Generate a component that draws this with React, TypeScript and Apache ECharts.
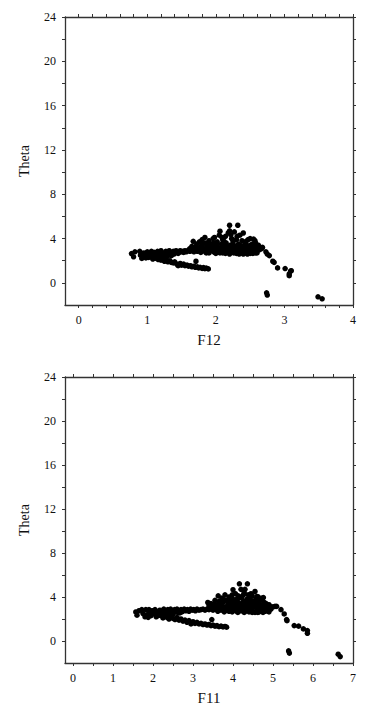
import { useEffect, useRef } from "react";
import * as echarts from "echarts";

// ---------- Top panel: Theta vs F12 ----------
const f12Band = [
  [0.77, 2.64], [0.8, 2.35], [0.82, 2.8], [0.89, 2.85], [0.9, 2.5], [0.92, 2.2], [0.95, 2.7], [0.97, 2.4],
  [1.0, 2.8], [1.0, 2.55], [1.02, 2.3], [1.04, 2.65], [1.06, 2.85], [1.07, 2.45], [1.09, 2.2], [1.1, 2.75],
  [1.12, 2.55], [1.14, 2.35], [1.15, 2.85], [1.17, 2.65], [1.18, 2.45], [1.2, 2.9], [1.22, 2.7], [1.24, 2.5],
  [1.25, 2.3], [1.27, 2.85], [1.29, 2.65], [1.3, 2.45], [1.32, 2.9], [1.34, 2.75], [1.36, 2.6], [1.38, 2.85],
  [1.4, 2.7], [1.42, 2.9], [1.44, 2.8], [1.46, 2.75], [1.48, 2.9], [1.5, 2.8], [1.52, 2.85], [1.55, 2.9],
  [1.57, 2.8], [1.6, 2.95], [1.62, 2.85], [1.65, 2.9], [1.68, 2.8], [1.7, 2.95], [1.73, 2.85], [1.76, 2.9],
  [1.8, 2.85], [1.84, 2.95], [1.88, 2.8], [1.9, 2.7], [1.92, 2.9], [1.96, 2.85], [2.0, 2.95], [2.0, 2.65],
  [2.04, 2.8], [2.08, 2.9], [2.1, 2.7], [2.12, 2.85], [2.16, 2.95], [2.2, 2.8], [2.2, 2.6], [2.24, 2.9],
  [2.28, 2.75], [2.3, 2.65], [2.32, 2.85], [2.36, 2.7], [2.4, 2.8], [2.4, 2.6], [2.44, 2.7], [2.48, 2.85],
  [2.5, 2.65], [2.52, 2.75], [2.56, 2.9], [2.6, 2.8], [2.6, 2.7], [2.64, 3.0], [2.67, 3.1],
  [0.98, 2.25], [1.03, 2.6], [1.08, 2.35], [1.11, 2.65], [1.16, 2.5], [1.19, 2.75], [1.21, 2.35], [1.26, 2.6],
  [1.31, 2.7], [1.35, 2.45], [1.39, 2.6], [1.45, 2.65], [1.53, 2.75], [1.78, 2.75], [1.86, 2.7], [1.98, 2.75],
  [2.06, 2.7], [2.14, 2.65], [2.26, 2.7], [2.34, 2.6], [2.46, 2.6], [2.54, 2.65], [2.58, 2.7],
];
const f12Branch = [
  [1.05, 2.35], [1.08, 2.15], [1.1, 2.4], [1.13, 2.2], [1.16, 2.1], [1.18, 2.3], [1.2, 2.05], [1.23, 2.2],
  [1.25, 1.95], [1.28, 2.1], [1.3, 1.9], [1.33, 2.0], [1.35, 1.85], [1.38, 1.8], [1.4, 1.9], [1.43, 1.7],
  [1.45, 1.55], [1.48, 1.75], [1.5, 1.6], [1.53, 1.7], [1.55, 1.55], [1.58, 1.6], [1.6, 1.5], [1.63, 1.55],
  [1.65, 1.45], [1.68, 1.5], [1.7, 1.4], [1.71, 1.95], [1.73, 1.45], [1.75, 1.35], [1.77, 1.4], [1.8, 1.3],
  [1.82, 1.38], [1.84, 1.28], [1.86, 1.33], [1.89, 1.26],
];
const f12Hump = [
  [1.62, 3.1], [1.65, 3.3], [1.67, 3.75], [1.7, 3.2], [1.72, 3.5], [1.75, 3.0], [1.76, 3.7], [1.78, 3.3],
  [1.8, 3.9], [1.82, 3.1], [1.84, 4.1], [1.85, 3.6], [1.87, 3.3], [1.9, 3.8], [1.92, 3.1], [1.94, 3.5],
  [1.96, 4.0], [1.98, 4.1], [2.0, 3.3], [2.02, 3.7], [2.04, 3.0], [2.05, 4.3], [2.06, 4.66], [2.08, 3.5],
  [2.1, 3.9], [2.12, 3.2], [2.14, 4.2], [2.15, 3.6], [2.17, 3.0], [2.18, 4.5], [2.2, 5.2], [2.2, 4.7],
  [2.21, 3.4], [2.23, 4.0], [2.25, 3.7], [2.27, 4.6], [2.28, 3.2], [2.3, 3.9], [2.32, 5.2], [2.33, 3.5],
  [2.35, 4.3], [2.36, 3.0], [2.38, 3.8], [2.4, 4.5], [2.41, 3.3], [2.43, 3.6], [2.45, 3.1], [2.47, 3.9],
  [2.5, 4.0], [2.5, 3.4], [2.52, 3.0], [2.55, 3.95], [2.55, 3.3], [2.58, 3.6], [2.6, 3.1], [2.62, 3.4],
  [2.65, 3.2], [2.68, 3.2],
  [1.68, 3.0], [1.73, 3.15], [1.79, 3.05], [1.81, 3.5], [1.86, 3.05], [1.89, 3.4], [1.93, 3.0], [1.95, 3.25],
  [1.99, 3.05], [2.01, 3.5], [2.03, 3.2], [2.07, 3.1], [2.09, 3.3], [2.11, 3.0], [2.13, 3.45], [2.16, 3.2],
  [2.19, 3.1], [2.22, 3.25], [2.24, 3.0], [2.26, 3.4], [2.29, 3.05], [2.31, 3.3], [2.34, 3.15], [2.37, 3.35],
  [2.39, 3.05], [2.42, 3.2], [2.44, 3.4], [2.46, 3.0], [2.48, 3.25], [2.51, 3.15], [2.53, 3.5], [2.56, 3.1],
  [2.57, 3.8], [2.59, 3.3], [2.61, 3.0], [2.63, 3.1], [1.97, 3.6], [2.12, 3.75], [2.26, 3.85], [2.44, 3.75],
  [2.09, 4.1], [2.31, 4.2], [2.22, 4.35],
];
const f12Tail = [
  [2.73, 2.8], [2.75, 2.6], [2.78, 2.46], [2.83, 1.95], [2.85, 1.85], [2.9, 1.35], [3.01, 1.29],
  [3.07, 0.8], [3.07, 0.65], [3.09, 1.05], [3.1, 1.1],
];
const f12Outliers = [[2.74, -0.9], [2.75, -1.1], [3.49, -1.26], [3.55, -1.44]];

// ---------- Bottom panel: Theta vs F11 ----------
const f11Band = [
  [1.57, 2.64], [1.6, 2.35], [1.65, 2.75], [1.72, 2.85], [1.75, 2.5], [1.8, 2.2], [1.82, 2.85], [1.86, 2.4],
  [1.9, 2.85], [1.92, 2.6], [1.95, 2.3], [1.98, 2.75], [2.02, 2.5], [2.05, 2.85], [2.08, 2.2], [2.1, 2.65],
  [2.14, 2.4], [2.17, 2.8], [2.2, 2.55], [2.24, 2.3], [2.27, 2.9], [2.3, 2.65], [2.34, 2.45], [2.37, 2.85],
  [2.4, 2.6], [2.44, 2.9], [2.47, 2.7], [2.5, 2.45], [2.54, 2.85], [2.57, 2.65], [2.6, 2.9], [2.64, 2.75],
  [2.67, 2.55], [2.7, 2.85], [2.74, 2.7], [2.78, 2.9], [2.82, 2.75], [2.86, 2.85], [2.9, 2.7], [2.94, 2.9],
  [2.98, 2.8], [3.02, 2.85], [3.06, 2.75], [3.1, 2.9], [3.15, 2.8], [3.2, 2.85], [3.25, 2.9], [3.3, 2.8],
  [3.35, 2.9], [3.4, 2.85], [3.45, 2.95], [3.5, 2.8], [3.55, 2.9], [3.6, 2.85], [3.65, 2.95], [3.7, 2.8],
  [3.75, 2.9], [3.8, 2.75], [3.85, 2.85], [3.9, 2.7], [3.95, 2.9], [4.0, 2.75], [4.05, 2.85], [4.1, 2.7],
  [4.15, 2.9], [4.2, 2.75], [4.25, 2.85], [4.3, 2.7], [4.35, 2.8], [4.4, 2.65], [4.45, 2.85], [4.5, 2.7],
  [4.55, 2.6], [4.6, 2.8], [4.65, 2.65], [4.7, 2.75], [4.75, 2.6], [4.8, 2.7], [4.85, 2.8], [4.9, 2.65],
  [4.95, 2.9], [5.0, 3.1], [5.05, 3.15],
  [1.88, 2.15], [1.97, 2.45], [2.06, 2.6], [2.12, 2.3], [2.19, 2.7], [2.28, 2.5], [2.36, 2.7], [2.42, 2.4],
  [2.52, 2.65], [2.62, 2.6], [2.72, 2.65], [3.62, 2.7], [3.78, 2.65], [3.98, 2.65], [4.12, 2.6], [4.28, 2.6],
  [4.48, 2.6], [4.62, 2.6], [4.78, 2.75], [4.88, 2.7],
];
const f11Branch = [
  [2.2, 2.3], [2.25, 2.1], [2.3, 2.35], [2.35, 2.15], [2.4, 2.0], [2.45, 2.25], [2.5, 2.05], [2.55, 1.95],
  [2.6, 2.15], [2.65, 1.9], [2.7, 2.0], [2.75, 1.8], [2.8, 1.9], [2.85, 1.7], [2.9, 1.85], [2.95, 1.55],
  [3.0, 1.75], [3.05, 1.6], [3.1, 1.7], [3.15, 1.55], [3.2, 1.6], [3.25, 1.5], [3.3, 1.55], [3.35, 1.45],
  [3.4, 1.5], [3.45, 1.4], [3.47, 1.95], [3.5, 1.45], [3.55, 1.35], [3.6, 1.4], [3.65, 1.3], [3.7, 1.35],
  [3.75, 1.28], [3.8, 1.32], [3.84, 1.26],
];
const f11Hump = [
  [3.37, 3.5], [3.4, 3.2], [3.45, 3.4], [3.5, 3.1], [3.55, 3.7], [3.6, 3.3], [3.63, 4.1], [3.65, 3.6],
  [3.7, 3.2], [3.72, 3.9], [3.75, 3.5], [3.8, 4.2], [3.82, 3.1], [3.85, 3.7], [3.88, 3.3], [3.9, 4.0],
  [3.93, 3.6], [3.96, 3.2], [4.0, 4.66], [4.0, 3.8], [4.03, 3.4], [4.06, 4.3], [4.08, 3.0], [4.1, 3.7],
  [4.13, 4.1], [4.16, 5.2], [4.17, 3.3], [4.2, 4.7], [4.22, 3.9], [4.25, 3.5], [4.28, 4.4], [4.3, 4.7],
  [4.32, 3.1], [4.35, 3.8], [4.36, 5.2], [4.38, 4.2], [4.4, 3.4], [4.43, 3.9], [4.46, 3.0], [4.48, 4.1],
  [4.5, 3.6], [4.53, 3.2], [4.55, 4.5], [4.57, 3.8], [4.6, 3.4], [4.63, 4.0], [4.65, 3.1], [4.68, 3.7],
  [4.7, 3.3], [4.73, 3.9], [4.76, 3.95], [4.78, 3.5], [4.8, 3.0], [4.83, 3.4], [4.85, 3.2], [4.9, 3.3],
  [4.95, 3.1],
  [3.42, 3.0], [3.52, 3.35], [3.58, 3.05], [3.68, 3.45], [3.74, 3.1], [3.78, 3.75], [3.84, 3.05], [3.87, 3.5],
  [3.92, 3.1], [3.95, 3.45], [3.99, 3.05], [4.02, 3.2], [4.05, 3.55], [4.09, 3.25], [4.12, 3.05], [4.15, 3.45],
  [4.19, 3.15], [4.23, 3.3], [4.27, 3.05], [4.3, 3.6], [4.34, 3.25], [4.37, 3.05], [4.41, 3.65], [4.45, 3.3],
  [4.49, 3.05], [4.52, 3.45], [4.56, 3.1], [4.59, 3.6], [4.62, 3.3], [4.67, 3.05], [4.72, 3.2], [4.75, 3.05],
  [4.82, 3.15], [4.88, 3.05], [4.18, 4.0], [4.26, 4.2], [4.45, 4.3], [4.6, 4.05], [4.11, 3.85], [3.98, 4.2],
];
const f11Tail = [
  [5.09, 3.15], [5.2, 2.85], [5.28, 2.46], [5.34, 1.95], [5.35, 1.85], [5.53, 1.4], [5.64, 1.35],
  [5.76, 1.1], [5.86, 0.95], [5.86, 0.7],
];
const f11Outliers = [[5.39, -0.9], [5.41, -1.1], [6.63, -1.2], [6.68, -1.42]];

// ---------- Axes ----------
const yLabels = [0, 4, 8, 12, 16, 20, 24];
const yTicks = [0, 2, 4, 6, 8, 10, 12, 14, 16, 18, 20, 22, 24];
const f12Labels = [0, 1, 2, 3, 4];
const f12Ticks = [0, 0.2, 0.4, 0.6, 0.8, 1, 1.2, 1.4, 1.6, 1.8, 2, 2.2, 2.4, 2.6, 2.8, 3, 3.2, 3.4, 3.6, 3.8, 4];
const f11Labels = [0, 1, 2, 3, 4, 5, 6, 7];
const f11Ticks = [0, 0.5, 1, 1.5, 2, 2.5, 3, 3.5, 4, 4.5, 5, 5.5, 6, 6.5, 7];

const FONT = "Liberation Serif";
const LINE = "#333";
const TXT = "#111";

function xAxis(grid: number, min: number, max: number, labels: number[], ticks: number[], name: string, position: "top" | "bottom") {
  const main = position === "bottom";
  return {
    type: "value",
    gridIndex: grid,
    position,
    min,
    max,
    name: main ? name : "",
    nameLocation: "middle",
    nameGap: 27,
    nameTextStyle: { fontFamily: FONT, fontSize: 15, color: TXT },
    axisLine: { show: true, onZero: false, lineStyle: { color: LINE, width: 1.3 } },
    axisTick: { show: true, length: 3, customValues: ticks, lineStyle: { color: LINE, width: 1 } },
    axisLabel: {
      show: main,
      customValues: labels,
      margin: 9,
      fontFamily: FONT,
      fontSize: 12,
      color: TXT,
      formatter: (v: number) => String(v),
    },
    splitLine: { show: false },
  };
}

function yAxis(grid: number, position: "left" | "right") {
  const main = position === "left";
  return {
    type: "value",
    gridIndex: grid,
    position,
    min: -2,
    max: 24,
    name: main ? "Theta" : "",
    nameLocation: "middle",
    nameGap: 34,
    nameTextStyle: { fontFamily: FONT, fontSize: 14, color: TXT },
    axisLine: { show: true, onZero: false, lineStyle: { color: LINE, width: 1.3 } },
    axisTick: { show: true, length: 3, customValues: yTicks, lineStyle: { color: LINE, width: 1 } },
    axisLabel: {
      show: main,
      customValues: yLabels,
      margin: 9,
      fontFamily: FONT,
      fontSize: 12,
      color: TXT,
      formatter: (v: number) => String(v),
    },
    splitLine: { show: false },
  };
}

const dot = { color: "#000", opacity: 1 };

export default function App() {
  const ref = useRef<HTMLDivElement>(null);
  useEffect(() => {
    if (!ref.current) return;
    const chart = echarts.init(ref.current, null, { renderer: "svg" });
    chart.setOption({
      animation: false,
      backgroundColor: "#fff",
      grid: [
        { left: 65, top: 17, width: 288, height: 288 },
        { left: 65, top: 377, width: 288, height: 288 },
      ],
      xAxis: [
        xAxis(0, -0.2, 4, f12Labels, f12Ticks, "F12", "bottom"),
        xAxis(0, -0.2, 4, f12Labels, f12Ticks, "", "top"),
        xAxis(1, -0.2, 7, f11Labels, f11Ticks, "F11", "bottom"),
        xAxis(1, -0.2, 7, f11Labels, f11Ticks, "", "top"),
      ],
      yAxis: [yAxis(0, "left"), yAxis(0, "right"), yAxis(1, "left"), yAxis(1, "right")],
      series: [
        {
          type: "scatter",
          xAxisIndex: 0,
          yAxisIndex: 0,
          symbolSize: 5.5,
          itemStyle: dot,
          data: [...f12Band, ...f12Branch, ...f12Hump, ...f12Tail, ...f12Outliers],
        },
        {
          type: "scatter",
          xAxisIndex: 2,
          yAxisIndex: 2,
          symbolSize: 5.5,
          itemStyle: dot,
          data: [...f11Band, ...f11Branch, ...f11Hump, ...f11Tail, ...f11Outliers],
        },
      ],
    });
    return () => chart.dispose();
  }, []);
  return (
    <div
      ref={ref}
      style={{ position: "absolute", left: 0, top: 0, width: 380, height: 706, background: "#fff" }}
    />
  );
}
